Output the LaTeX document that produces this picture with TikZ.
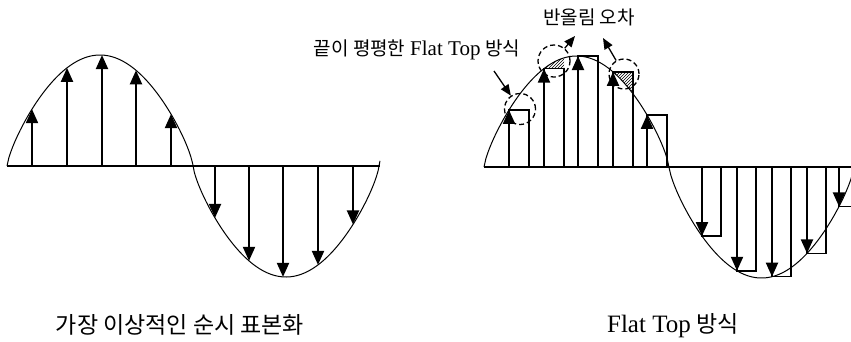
\documentclass[tikz,border=0pt]{standalone}
\usepackage{fontspec}
\setmainfont{Liberation Serif}
\newfontfamily\kr{Noto Sans CJK KR}
\usetikzlibrary{arrows.meta,patterns}
\begin{document}
\begin{tikzpicture}[x=1pt,y=-1pt,
  declare function={
    ws(\t)=abs(sin(\t))+0.00001;
    wv(\t)=(sin(\t)>=0 ? 1 : -1)*sqrt(ws(\t))*sqrt(sqrt(ws(\t)));
    lf(\x)=166-111*wv((\x-7)/186*180);
    rf(\x)=167-111*wv((\x-484)/185*180);
  },
  curve/.style={line width=1pt},
  axisline/.style={line width=1.2pt},
  stem/.style={line width=2pt,-{Triangle[length=14pt,width=12pt]}},
  pulse/.style={line width=1.4pt},
  ring/.style={draw,circle,line width=1.3pt,dash pattern=on 5pt off 3pt,inner sep=0pt},
  pointer/.style={line width=1.3pt,-{Triangle[length=11pt,width=9pt]}},
  lbl/.style={inner sep=0pt},
  small/.style={font=\fontsize{19}{22}\selectfont},
  big/.style={font=\fontsize{23}{27}\selectfont}
]
\useasboundingbox (0,0) rectangle (851,341);
\clip (0,0) rectangle (851,341);

% left panel
\draw[axisline] (7,166) -- (380,166);
\draw[curve] plot[domain=7:380,samples=200] (\x,{lf(\x)});
\foreach \s in {32,67,102,136,171,215,249,283,318,353}
  \draw[stem] (\s,166) -- (\s,{lf(\s)});

% right panel
\draw[axisline] (484,167) -- (851,167);
\fill[pattern=north east lines] plot[domain=544:564,samples=20] (\x,{rf(\x)}) -- (564,{rf(544)}) -- cycle;
\fill[pattern=north east lines] plot[domain=613:633,samples=20] (\x,{rf(\x)}) -- (633,{rf(613)}) -- cycle;
\draw[curve] plot[domain=484:856,samples=200] (\x,{rf(\x)});
\foreach \s in {509,544,578,613,647} {
  \draw[pulse] (\s,167) -- (\s,{rf(\s)}) -- (\s+20,{rf(\s)}) -- (\s+20,167);
  \draw[stem] (\s,167) -- (\s,{rf(\s)});
}
\foreach \s in {702,737,772,807,839} {
  \draw[pulse] (\s,167) -- (\s,{rf(\s)}) -- (\s+19,{rf(\s)}) -- (\s+19,167);
  \draw[stem] (\s,167) -- (\s,{rf(\s)});
}

% circles
\node[ring,minimum size=31pt] (c1) at (520,109) {};
\node[ring,minimum size=32pt] (c2) at (554,61) {};
\node[ring,minimum size=30pt] (c3) at (624,74) {};

% labels
\node[lbl,small] (l1) at (417,50) {{\kr 끝이 평평한} {\fontsize{21}{22}\selectfont Flat Top} {\kr 방식}};
\node[lbl,small] (l2) at (589,17) {\kr 반올림 오차};
\node[lbl,big] (l3) at (180,325) {\kr 가장 이상적인 순시 표본화};
\node[lbl,big] (l4) at (673,326) {{\fontsize{25}{27}\selectfont Flat Top} {\kr 방식}};

% pointers
\coordinate (p1) at (494,71);
\coordinate (p2) at (575,36);
\coordinate (p3) at (603,38);
\draw[pointer] (p1) -- (c1);
\draw[pointer] (c2) -- (p2);
\draw[pointer] (c3) -- (p3);
\end{tikzpicture}
\end{document}
